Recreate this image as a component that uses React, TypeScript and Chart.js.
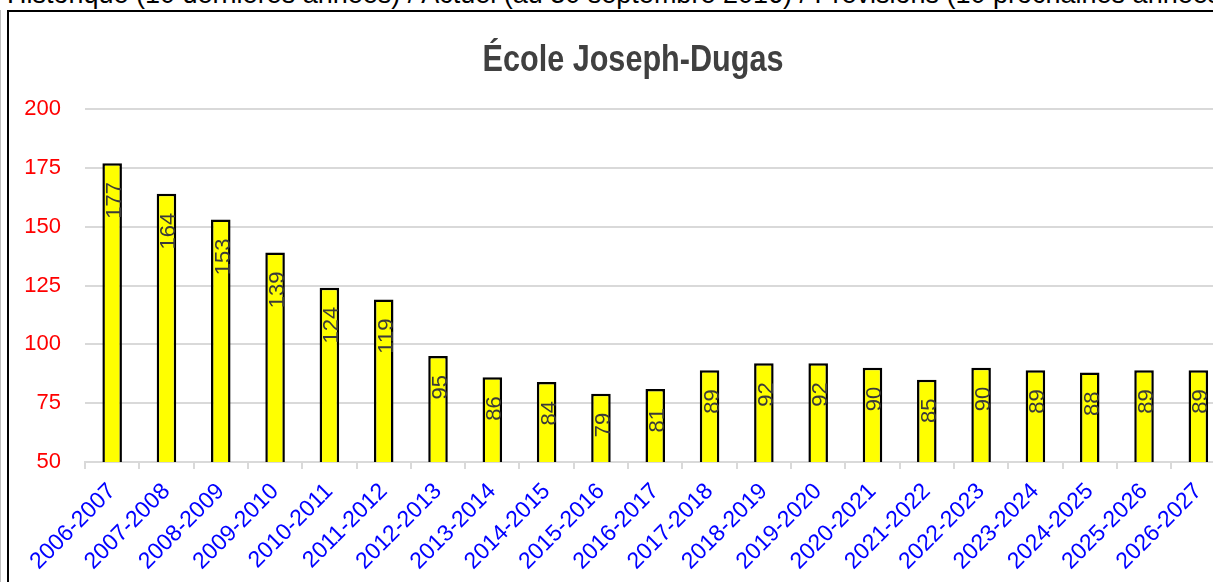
import React, { useEffect, useRef } from "react";
import { Chart, registerables } from "chart.js";

Chart.register(...registerables);

const categories: string[] = [
  "2006-2007", "2007-2008", "2008-2009", "2009-2010", "2010-2011", "2011-2012",
  "2012-2013", "2013-2014", "2014-2015", "2015-2016", "2016-2017", "2017-2018",
  "2018-2019", "2019-2020", "2020-2021", "2021-2022", "2022-2023", "2023-2024",
  "2024-2025", "2025-2026", "2026-2027",
];
const enrolment: number[] = [
  177, 164, 153, 139, 124, 119, 95, 86, 84, 79, 81, 89, 92, 92, 90, 85, 90, 89, 88, 89, 89,
];
const yMin = 50;
const yMax = 200;
const yStep = 25;
const chartTitle = "École Joseph-Dugas";
const headerText =
  "Historique (10 dernières années) / Actuel (au 30 septembre 2016) / Prévisions (10 prochaines années)";

const CANVAS_W = 1248;
const CANVAS_H = 570;

const valueLabels = {
  id: "valueLabels",
  afterDatasetsDraw(chart: any) {
    const ctx = chart.ctx;
    const meta = chart.getDatasetMeta(0);
    const data = chart.data.datasets[0].data as number[];
    ctx.save();
    ctx.fillStyle = "#3a3a3a";
    ctx.font = "22px 'Liberation Sans', Arial, sans-serif";
    ctx.textAlign = "right";
    ctx.textBaseline = "alphabetic";
    meta.data.forEach((bar: any, i: number) => {
      ctx.save();
      ctx.translate(bar.x + 9, bar.y + 19);
      ctx.rotate(-Math.PI / 2);
      ctx.fillText(String(data[i]), 0, 0);
      ctx.restore();
    });
    ctx.restore();
  },
};

export default function App() {
  const canvasRef = useRef<HTMLCanvasElement | null>(null);

  useEffect(() => {
    const canvas = canvasRef.current;
    if (!canvas) return;
    const chart = new Chart(canvas, {
      type: "bar",
      data: {
        labels: categories,
        datasets: [
          {
            data: enrolment,
            backgroundColor: "#FFFF00",
            borderColor: "#000000",
            borderWidth: 2.5,
            barPercentage: 0.36,
            categoryPercentage: 1,
          },
        ],
      },
      options: {
        responsive: false,
        animation: false,
        devicePixelRatio: 1,
        layout: { padding: { top: 97, right: 31.5, left: 0, bottom: 0 } },
        plugins: {
          legend: { display: false },
          tooltip: { enabled: false },
          title: { display: false },
        },
        scales: {
          x: {
            offset: true,
            grid: {
              display: true,
              drawOnChartArea: false,
              drawTicks: true,
              tickLength: 7,
              color: "#d9d9d9",
              lineWidth: 2,
              offset: true,
            },
            border: { display: true, color: "#d9d9d9", width: 2 },
            ticks: {
              color: "#0000FF",
              font: { family: "'Liberation Sans', Arial, sans-serif", size: 23 },
              minRotation: 45,
              maxRotation: 45,
              autoSkip: false,
              padding: 9,
            },
            afterFit(scale: any) {
              scale.height = 120;
            },
          },
          y: {
            min: yMin,
            max: yMax,
            grid: { color: "#d9d9d9", lineWidth: 2, drawTicks: false },
            border: { display: false },
            ticks: {
              stepSize: yStep,
              color: "#FF0000",
              font: { family: "'Liberation Sans', Arial, sans-serif", size: 22 },
              padding: 24,
            },
            afterFit(scale: any) {
              scale.width = 76;
            },
          },
        },
      },
      plugins: [valueLabels],
    });
    return () => chart.destroy();
  }, []);

  return (
    <div
      style={{
        position: "fixed",
        left: 0,
        top: 0,
        width: 1213,
        height: 582,
        overflow: "hidden",
        background: "#ffffff",
      }}
    >
      <div
        style={{
          position: "absolute",
          left: 7,
          top: -19,
          whiteSpace: "nowrap",
          font: "27px/27px 'Liberation Sans', Arial, sans-serif",
          color: "#000000",
        }}
      >
        {headerText}
      </div>
      <div
        style={{
          position: "absolute",
          left: 0,
          top: 10,
          width: 1,
          height: 600,
          background: "#bfbfbf",
        }}
      />
      <div
        style={{
          position: "absolute",
          left: 7,
          top: 10,
          width: 1252,
          height: 700,
          border: "2px solid #000000",
          boxSizing: "border-box",
          background: "#ffffff",
        }}
      />
      <canvas
        ref={canvasRef}
        width={CANVAS_W}
        height={CANVAS_H}
        style={{ position: "absolute", left: 9, top: 12, width: CANVAS_W, height: CANVAS_H }}
      />
      <div
        style={{
          position: "absolute",
          left: 0,
          top: 41,
          width: 1266,
          textAlign: "center",
          whiteSpace: "nowrap",
          font: "bold 36px/36px 'Liberation Sans', Arial, sans-serif",
          color: "#404040",
          transform: "scaleX(0.85)",
          transformOrigin: "633px 50%",
        }}
      >
        {chartTitle}
      </div>
    </div>
  );
}
